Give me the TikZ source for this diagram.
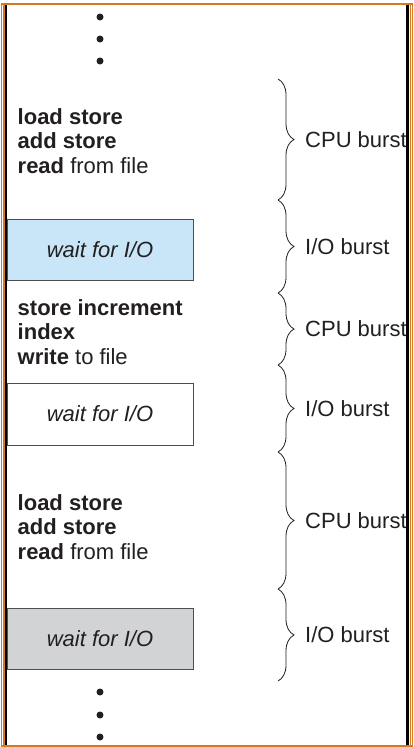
\documentclass[tikz,border=0pt]{standalone}
\usepackage{fontspec}
\setmainfont{Liberation Sans}
\usepackage{xcolor}
\usetikzlibrary{decorations.pathreplacing}
\definecolor{frameorange}{RGB}{214,122,32}
\definecolor{waitblue}{RGB}{200,230,248}
\definecolor{waitgray}{RGB}{209,211,212}
\definecolor{inkgray}{RGB}{35,31,32}
\definecolor{edgegray}{RGB}{75,80,86}

\begin{document}
\begin{tikzpicture}[x=1pt, y=-1pt, text=inkgray,
  font=\fontsize{22}{24.3}\selectfont,
  waitbox/.style={draw=edgegray, line width=1pt, minimum width=186pt, minimum height=61pt, inner sep=0pt, font=\fontsize{22}{24.3}\selectfont\itshape},
  codeblock/.style={anchor=west, align=left, inner sep=0pt},
  dot/.style={circle, fill=inkgray, inner sep=0pt, minimum size=7pt},
  burst/.style={decorate, decoration={brace, amplitude=16pt}, draw=inkgray, line width=0.8pt},
  burstlabel/.style={anchor=west, inner sep=0pt}]
% Page and frame
\useasboundingbox[fill=white] (0,0) rectangle (414,747);

% Dots at the top
\node[dot] (top1) at (100,17) {};
\node[dot] (top2) at (100,39) {};
\node[dot] (top3) at (100,61) {};

% Program trace
\node[codeblock] (cpu1) at (17.5,141) {\textbf{load store}\\\textbf{add store}\\\textbf{read} from file};
\node[waitbox, fill=waitblue] (io1) at (100,249.5) {wait for I/O};
\node[codeblock] (cpu2) at (17.5,332) {\textbf{store increment}\\\textbf{index}\\\textbf{write} to file};
\node[waitbox, fill=white, minimum height=62pt] (io2) at (100,414) {wait for I/O};
\node[codeblock] (cpu3) at (17.5,527) {\textbf{load store}\\\textbf{add store}\\\textbf{read} from file};
\node[waitbox, fill=waitgray] (io3) at (100,638.5) {wait for I/O};

% Dots at the bottom
\node[dot] (bot1) at (100,692) {};
\node[dot] (bot2) at (100,715) {};
\node[dot] (bot3) at (100,737) {};

% Burst braces
\coordinate (b0) at (278,79);
\coordinate (b1) at (278,200);
\coordinate (b2) at (278,293);
\coordinate (b3) at (278,365);
\coordinate (b4) at (278,452);
\coordinate (b5) at (278,589);
\coordinate (b6) at (278,681);
\draw[burst] (b0) -- (b1);
\draw[burst] (b1) -- (b2);
\draw[burst] (b2) -- (b3);
\draw[burst] (b3) -- (b4);
\draw[burst] (b4) -- (b5);
\draw[burst] (b5) -- (b6);

% Burst labels
\begin{scope}
\clip (0,0) rectangle (406,747);
\node[burstlabel] (l1) at (305,139.5) {CPU burst};
\node[burstlabel] (l2) at (305,246.5) {I/O burst};
\node[burstlabel] (l3) at (305,329) {CPU burst};
\node[burstlabel] (l4) at (305,408.5) {I/O burst};
\node[burstlabel] (l5) at (305,520.5) {CPU burst};
\node[burstlabel] (l6) at (305,635) {I/O burst};
\end{scope}

% Frame lines
\draw[line width=2.6pt] (6,5) -- (6,745);
\draw[line width=2.6pt] (407.5,5) -- (407.5,745);
\draw[frameorange, line width=1.4pt] (1.5,3.8) rectangle (412.5,745.8);
\draw[frameorange, line width=1.2pt] (3.9,4) -- (3.9,745.5);
\draw[frameorange, line width=1.2pt] (410.2,4) -- (410.2,745.5);
\end{tikzpicture}
\end{document}
